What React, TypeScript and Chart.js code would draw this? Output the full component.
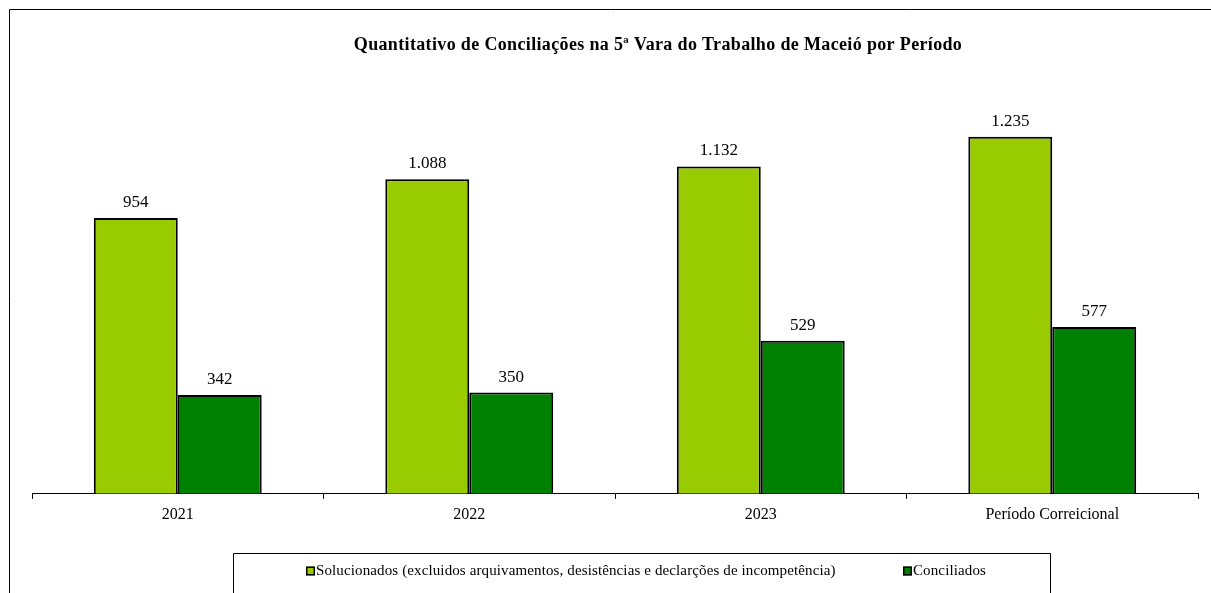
import React, { useEffect, useRef } from "react";
import { Chart, registerables } from "chart.js";

Chart.register(...registerables);

const TITLE = "Quantitativo de Conciliações na 5ª Vara do Trabalho de Maceió por Período";
const categories = ["2021", "2022", "2023", "Período Correicional"];
const solucionados = [954, 1088, 1132, 1235];
const conciliados = [342, 350, 529, 577];
const seriesLabels = [
  "Solucionados (excluidos arquivamentos, desistências e declarções de incompetência)",
  "Conciliados",
];
const seriesColors = ["#99CC00", "#008000"];

const SERIF = "'Liberation Serif', 'Times New Roman', serif";

function fmt(v: number): string {
  const s = String(Math.round(v));
  return s.replace(/\B(?=(\d{3})+(?!\d))/g, ".");
}

const decorPlugin = {
  id: "decor",
  afterDatasetsDraw(chart: any) {
    const ctx = chart.ctx;
    ctx.save();
    ctx.fillStyle = "#000";
    ctx.font = `17px ${SERIF}`;
    ctx.textAlign = "center";
    ctx.textBaseline = "alphabetic";
    chart.data.datasets.forEach((ds: any, di: number) => {
      const meta = chart.getDatasetMeta(di);
      meta.data.forEach((bar: any, i: number) => {
        ctx.fillText(fmt(ds.data[i]), bar.x, bar.y - 11);
      });
    });
    ctx.restore();
  },
  afterDraw(chart: any) {
    const ctx = chart.ctx;
    ctx.save();
    // outer frame
    ctx.strokeStyle = "#000";
    ctx.lineWidth = 1;
    ctx.beginPath();
    ctx.moveTo(9.5, 593);
    ctx.lineTo(9.5, 9.5);
    ctx.lineTo(1211, 9.5);
    ctx.stroke();
    // title
    ctx.fillStyle = "#000";
    ctx.font = `bold 18px ${SERIF}`;
    try { (ctx as any).letterSpacing = "0.35px"; } catch (e) {}
    ctx.textAlign = "center";
    ctx.textBaseline = "middle";
    ctx.fillText(TITLE, 658, 45);
    // legend box
    ctx.strokeStyle = "#000";
    ctx.beginPath();
    ctx.moveTo(233.5, 593);
    ctx.lineTo(233.5, 553.5);
    ctx.lineTo(1050.5, 553.5);
    ctx.lineTo(1050.5, 593);
    ctx.stroke();
    // legend items
    ctx.font = `15px ${SERIF}`;
    try { (ctx as any).letterSpacing = "0.12px"; } catch (e) {}
    ctx.textAlign = "left";
    ctx.textBaseline = "middle";
    const itemX = [306, 903];
    chart.data.datasets.forEach((ds: any, di: number) => {
      const x = itemX[di];
      const y = 571;
      ctx.fillStyle = ds.backgroundColor;
      ctx.fillRect(x, y - 4.5, 9, 9);
      ctx.strokeStyle = "#000";
      ctx.lineWidth = 1.5;
      ctx.strokeRect(x + 0.75, y - 3.75, 7.5, 7.5);
      ctx.fillStyle = "#000";
      ctx.fillText(ds.label, x + 10, y);
    });
    try { (ctx as any).letterSpacing = "0px"; } catch (e) {}
    ctx.restore();
  },
};

export default function App() {
  const ref = useRef<HTMLCanvasElement | null>(null);
  useEffect(() => {
    if (!ref.current) return;
    const chart = new Chart(ref.current, {
      type: "bar",
      data: {
        labels: categories,
        datasets: [
          {
            label: seriesLabels[0],
            data: solucionados,
            backgroundColor: seriesColors[0],
            borderColor: "#000",
            borderWidth: 2,
          },
          {
            label: seriesLabels[1],
            data: conciliados,
            backgroundColor: seriesColors[1],
            borderColor: "#000",
            borderWidth: 2,
          },
        ],
      },
      options: {
        responsive: false,
        animation: false,
        layout: { padding: { left: 32, right: 13, top: 89, bottom: 63 } },
        datasets: { bar: { categoryPercentage: 0.576, barPercentage: 1 } },
        plugins: {
          legend: { display: false },
          title: { display: false },
          tooltip: { enabled: false },
        },
        scales: {
          x: {
            grid: {
              offset: true,
              drawOnChartArea: false,
              drawTicks: true,
              tickLength: 5,
              color: "#000",
            },
            border: { display: true, color: "#000", width: 1 },
            ticks: {
              color: "#000",
              padding: 6,
              font: { family: SERIF, size: 16 },
              maxRotation: 0,
            },
          },
          y: {
            display: false,
            min: 0,
            max: 1400,
          },
        },
      },
      plugins: [decorPlugin],
    });
    return () => chart.destroy();
  }, []);
  return (
    <div style={{ position: "fixed", left: 0, top: 0, width: 1211, height: 593, background: "#fff" }}>
      <canvas ref={ref} width={1211} height={593} style={{ display: "block" }} />
    </div>
  );
}
